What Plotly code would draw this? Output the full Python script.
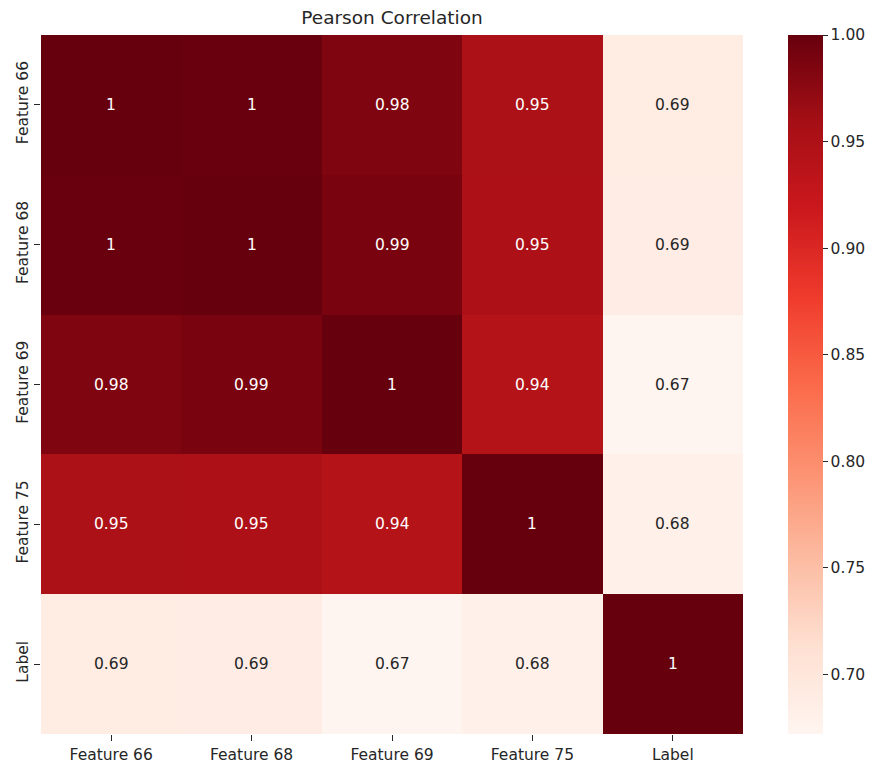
import plotly.graph_objects as go

# Correlation matrix between selected features and the label
labels = ["Feature 66", "Feature 68", "Feature 69", "Feature 75", "Label"]
row_f66 = [1.000, 0.999, 0.984, 0.951, 0.690]
row_f68 = [0.999, 1.000, 0.988, 0.950, 0.689]
row_f69 = [0.984, 0.988, 1.000, 0.943, 0.672]
row_f75 = [0.951, 0.950, 0.943, 1.000, 0.681]
row_lab = [0.690, 0.689, 0.672, 0.681, 1.000]
matrix = [row_f66, row_f68, row_f69, row_f75, row_lab]

# matplotlib "Reds" sequential palette
reds = ["#fff5f0", "#fee0d2", "#fcbba1", "#fc9272", "#fb6a4a",
        "#ef3b2c", "#cb181d", "#a50f15", "#67000d"]
colorscale = [[i / (len(reds) - 1), c] for i, c in enumerate(reds)]

zmin = min(min(r) for r in matrix)
zmax = max(max(r) for r in matrix)

FONT = "DejaVu Sans"
INK = "#262626"
TICK_SIZE = 15.5

fig = go.Figure(go.Heatmap(
    z=matrix, x=labels, y=labels,
    colorscale=colorscale, zmin=zmin, zmax=zmax,
    xgap=0, ygap=0,
    colorbar=dict(
        x=1.064, xanchor="left", xpad=0, ypad=0,
        y=0.5, yanchor="middle", len=1, lenmode="fraction",
        thickness=35, outlinewidth=0,
        tickvals=[0.70, 0.75, 0.80, 0.85, 0.90, 0.95, 1.00],
        ticktext=["0.70", "0.75", "0.80", "0.85", "0.90", "0.95", "1.00"],
        ticks="outside", ticklen=5, tickcolor=INK,
        tickfont=dict(family=FONT, size=TICK_SIZE, color=INK),
    ),
    hoverinfo="skip",
))

# Cell annotations in ".2g" style, light text on dark cells
annotations = []
for i, row in enumerate(matrix):
    for j, v in enumerate(row):
        frac = (v - zmin) / (zmax - zmin)
        annotations.append(dict(
            x=labels[j], y=labels[i], text=format(v, ".2g"),
            showarrow=False,
            font=dict(family=FONT, size=TICK_SIZE,
                      color="white" if frac > 0.45 else INK),
        ))

fig.update_layout(
    width=870, height=764,
    margin=dict(l=41, r=127, t=35, b=30, autoexpand=False),
    paper_bgcolor="white", plot_bgcolor="white",
    title=dict(text="Pearson Correlation", x=0.5, xref="paper",
               y=1 - 18 / 764, yanchor="middle",
               font=dict(family=FONT, size=18.5, color=INK)),
    annotations=annotations,
    xaxis=dict(showgrid=False, zeroline=False, ticks="outside", ticklen=6,
               tickcolor=INK, automargin=False,
               tickfont=dict(family=FONT, size=TICK_SIZE, color=INK)),
    yaxis=dict(showgrid=False, zeroline=False, ticks="outside", ticklen=6,
               tickcolor=INK, autorange="reversed", tickangle=-90,
               automargin=False,
               tickfont=dict(family=FONT, size=TICK_SIZE, color=INK)),
)

fig.write_html("out.html")
